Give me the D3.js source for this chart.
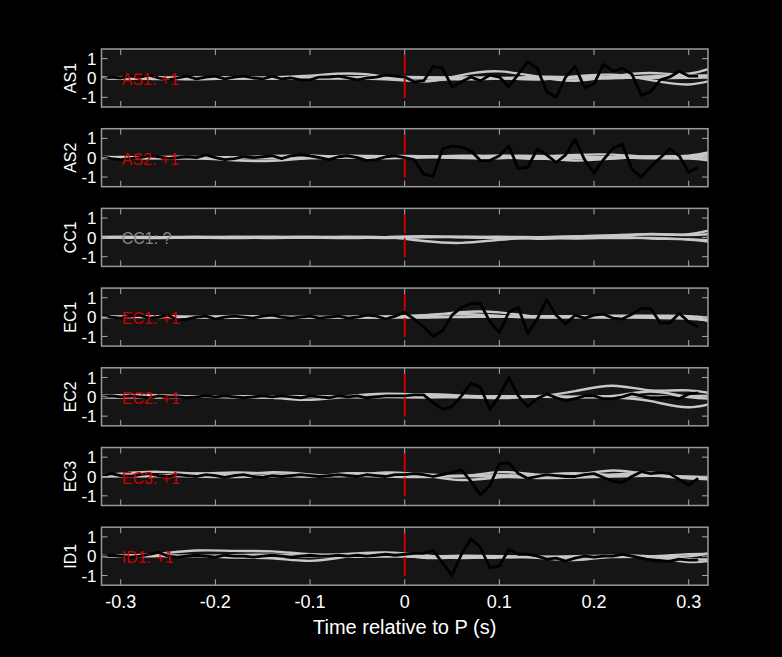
<!DOCTYPE html>
<html><head><meta charset="utf-8">
<script src="https://cdn.jsdelivr.net/npm/d3@7"></script>
<style>body{margin:0;background:#000}svg{display:block}</style>
</head><body>
<svg id="c" width="782" height="657"></svg>
<script>
const stations = ["AS1","AS2","CC1","EC1","EC2","EC3","ID1"];
const labels = ["AS1: +1","AS2: +1","CC1: ?","EC1: +1","EC2: +1","EC3: +1","ID1: +1"];
const labelColors = ["#cc0000","#cc0000","#888888","#cc0000","#cc0000","#cc0000","#cc0000"];
const xTicks = [-0.3,-0.2,-0.1,0,0.1,0.2,0.3];
const yTicks = [1,0,-1];
// black trace: t = -0.33 .. 0.31 step 0.01 (pre 33 values, post 32 values)
const blackPre = {
 AS1:[-0.1,-0.05,0.05,0.0,0.1,0.05,0.15,0.0,-0.1,0.0,0.1,-0.05,0.05,0.1,-0.05,0.05,0.1,0.0,-0.05,0.1,-0.05,0.0,-0.1,-0.1,0.05,0.05,0.1,0.0,-0.1,0.0,0.05,0.15,0.1],
 AS2:[0.2,0.05,-0.05,-0.1,-0.05,0.0,0.1,0.05,-0.05,0.0,0.05,0.0,0.15,0.0,-0.1,-0.05,0.05,0.0,0.05,0.1,-0.05,0.1,0.15,0.1,0.0,-0.1,0.05,0.1,0.0,-0.15,-0.1,0.05,0.1],
 CC1:[],
 EC1:[0.05,0.1,0.0,-0.05,0.05,0.1,-0.05,0.0,0.1,-0.15,-0.1,0.0,0.05,-0.1,0.0,0.05,0.0,-0.05,0.05,0.1,0.0,-0.05,0.0,0.05,-0.05,0.0,0.05,-0.05,0.0,0.1,0.05,-0.1,0.05],
 EC2:[0.05,0.0,0.05,0.0,0.05,0.0,-0.05,0.05,0.0,0.0,-0.05,0.0,0.05,0.0,0.05,0.0,-0.05,0.0,0.05,0.0,0.05,0.0,-0.05,0.05,0.0,-0.05,0.05,0.0,0.05,-0.05,0.0,0.05,0.05],
 EC3:[0.1,0.05,0.15,0.05,0.0,0.1,0.15,0.05,0.0,0.1,0.05,0.0,0.1,0.05,-0.05,0.05,0.1,0.0,-0.05,0.05,0.0,0.05,0.1,0.05,0.0,0.05,0.1,0.05,0.0,0.1,0.05,0.0,0.1],
 ID1:[0.0,0.0,0.05,0.0,-0.05,0.0,0.1,0.2,0.0,-0.05,0.0,0.05,0.0,-0.05,0.05,0.0,0.0,-0.05,0.0,0.05,0.0,-0.05,0.0,0.05,0.0,0.0,0.05,0.0,0.05,0.0,0.05,0.1,0.05]
};
const blackPost = {
 AS1:[0.05,-0.2,-0.15,0.6,0.5,-0.45,-0.2,0.05,-0.15,0.15,0.05,-0.45,0.2,0.85,0.5,-0.7,-1.0,0.05,0.6,-0.5,-0.3,0.7,0.35,0.5,0.2,-0.9,-0.7,-0.1,0.05,0.35,0.1,0.1],
 AS2:[0,-0.1,-0.85,-0.95,0.45,0.6,0.55,0.35,-0.15,-0.15,0.1,0.6,-0.55,-0.5,0.45,0.15,-0.25,0.15,0.95,-0.1,-0.8,-0.1,0.5,0.7,-0.6,-1.0,-0.45,0,0.45,0.1,-0.75,-0.5],
 CC1:[],
 EC1:[0.25,-0.1,-0.5,-1.0,-0.7,0.1,0.5,0.7,0.7,-0.25,-0.8,0.25,0.5,-0.85,-0.1,0.9,0.1,-0.35,0.1,-0.05,0.1,0.15,-0.05,-0.1,0.15,0.45,0.45,-0.3,-0.3,0.2,-0.25,-0.5],
 EC2:[0.05,0.1,0.1,-0.3,-0.65,-0.5,0.05,0.7,0.5,-0.65,0.05,1.0,0.05,-0.5,-0.1,0.15,-0.05,-0.2,-0.1,0.05,0.05,-0.1,-0.1,0,0.15,0.05,-0.05,-0.05,0,-0.1,0.15,0.2],
 EC3:[0.1,0.15,0.1,0,0.1,0.2,0.35,-0.25,-0.95,-0.45,0.65,0.7,0.15,-0.1,0,0.1,0.05,0,0,0.1,0.15,-0.05,-0.25,-0.3,0,0.25,0.15,0.2,0.15,-0.15,-0.45,-0.1],
 ID1:[0.1,0.15,0.15,0.3,-0.35,-1.0,0.1,0.9,0.45,-0.6,-0.5,0.35,0.1,0.1,0,-0.15,-0.1,-0.25,-0.1,0,-0.05,0,0,0.1,0,-0.1,-0.2,-0.25,-0.25,-0.15,-0.2,-0.2]
};
// gray traces: t = -0.34 .. 0.34 step 0.04 (18 points)
const grayTraces = {
 AS1:[[0,0,0.05,0,-0.05,0.05,0.1,0.3,0.1,-0.35,0.2,0.45,0.05,-0.25,0.1,0.35,0.05,0.8],
      [0,0,0,-0.1,0,-0.05,0,-0.05,0,0.05,-0.1,-0.05,0.1,0.05,-0.05,0.1,0.1,0.1],
      [0,0.05,-0.1,0.05,0,0,0.05,0,-0.05,-0.2,0,0.05,-0.15,0.1,0.25,-0.1,-0.5,0.1],
      [0,0,0,0,0.05,0,-0.05,0.05,0.05,0,0.05,0,0,-0.05,0,0.05,0.1,0.15],
      [0,-0.05,0,0.05,0,-0.05,0,0,0.05,0.05,0,-0.05,0,0.05,0.05,0,0,0.05]],
 AS2:[[0.1,0,-0.05,0,-0.15,-0.2,0,0.15,0.05,0.1,0.05,0.15,0,-0.2,-0.05,0.1,0,0.5],
      [0,0,0.05,0.05,0,0.1,0.15,0,-0.05,0.05,0,-0.05,0.05,0.15,0.2,0,0.05,0.3],
      [0,-0.05,0,-0.05,0.05,0,-0.05,0.05,0,0,0.15,0.05,-0.1,0,0.05,-0.05,0,-0.25],
      [0,0,0,0.05,-0.05,0,0.05,0,0.1,0.1,-0.05,0,0.05,0,-0.05,0.05,0.1,0.0],
      [0,0.05,0,0,0.05,-0.05,0,0.05,0.05,0.05,0.05,0.1,0.1,0.05,0,0.05,0.05,-0.1]],
 CC1:[[0,0,0,0,0,0.05,0,0,0.05,-0.2,-0.35,-0.1,0,0.05,0.1,0.2,0.05,0.6],
      [0,0,-0.05,0,0.05,0,0,-0.05,0,0.1,0,-0.05,0.05,-0.1,0,0.25,0.05,0.25],
      [0,0.05,0,0,-0.05,0,0.05,0,-0.05,0,0.05,0,-0.1,0,-0.05,0,-0.1,-0.2],
      [0,0,0,0.05,0,-0.05,0,0.05,0,0.05,0,0.05,0,0.05,0.1,-0.1,-0.05,-0.35]],
 EC1:[[0,0,0.05,0,0.05,-0.05,0.05,0,-0.05,0.05,0.3,0.3,-0.05,0,0.1,0.05,0.1,-0.15],
      [0,0.05,0,-0.05,0.1,0,-0.05,0.05,0,0.1,0.2,0.05,-0.05,0.05,0,-0.05,-0.05,-0.25],
      [0,0,0,0,-0.05,0,0,0,0.05,0,0,0.05,0,0,-0.05,0.05,0.05,-0.4],
      [0,0,0.05,0,0,0.05,0,-0.05,0,-0.05,0.05,0,0.05,0.05,0,0,0,-0.3]],
 EC2:[[0,0.1,0.1,0,-0.05,0,-0.25,0.05,0.2,0.1,0,-0.1,0,0.25,0.75,0.2,0.45,0.0],
      [0,0,-0.05,0,0.05,0,0.05,0,-0.05,0.2,0.05,0,0,0,-0.05,0.45,-0.1,-0.1],
      [0,0,0,0.05,0,-0.05,0,0,0,0.05,-0.05,0,0.05,-0.05,0,-0.15,-0.75,-0.1],
      [0,-0.05,0,0,0,0,0.05,-0.05,0,-0.05,0,0.05,0,0,0.05,0,0.05,0.05]],
 EC3:[[0,0.15,0.3,0.1,0.25,0.15,-0.1,0.25,0.1,0.2,-0.1,0.35,0.05,0,0.45,0.05,-0.1,-0.2],
      [0,0.1,-0.05,0.25,0,0.3,0.1,-0.05,0.3,0.1,-0.3,0,0.05,0.25,0,0.35,-0.2,0.0],
      [0,0,0.05,0,-0.05,0.05,0,0.05,0,-0.05,0.05,0,-0.1,-0.05,0,0.05,0,-0.1],
      [0,0.05,0,0.1,0.05,0,0.05,0,0.1,0.05,0,0.1,0,0,0.05,0.1,-0.05,0.0]],
 ID1:[[0,0,0.1,0.35,0.25,0.3,0.05,0.1,0.25,0.05,-0.15,0,-0.05,-0.3,0.05,0,-0.1,0.35],
      [0,0.05,0,0.05,-0.1,-0.05,-0.35,0,0.3,-0.2,0,-0.05,0,-0.1,0,0.1,-0.45,-0.1],
      [0,0,0,0,0.05,0.1,0,-0.05,0,-0.05,0.05,0,-0.05,0,0.05,-0.05,0.15,0.1],
      [0,0,0.05,0,0,-0.05,0,0.05,0.05,0,-0.05,-0.1,0,-0.1,-0.05,0,-0.2,-0.15]]
};

const svg = d3.select("#c");
const left = 101.5, right = 708, top0 = 49, ph = 58, step = 79.7;
const x = d3.scaleLinear().domain([-0.3203, 0.3204]).range([left, right]);
const font = "Liberation Sans, Arial, sans-serif";

svg.append("defs").append("clipPath").attr("id","clip")
  .append("rect").attr("x",left).attr("y",0).attr("width",right-left).attr("height",ph);

stations.forEach((s, i) => {
  const top = top0 + i*step;
  const g = svg.append("g").attr("transform", `translate(0,${top})`);
  const y = d3.scaleLinear().domain([-1.5,1.5]).range([ph,0]);
  g.append("rect").attr("x",left).attr("y",0).attr("width",right-left).attr("height",ph).attr("fill","#151515");
  const pg = g.append("g").attr("clip-path","url(#clip)");
  const gl = d3.line().x(d=>x(d[0])).y(d=>y(d[1])).curve(d3.curveBasis);
  grayTraces[s].forEach(tr => {
    const pts = tr.map((v,k)=>[-0.34+0.04*k, v]);
    pg.append("path").attr("d",gl(pts)).attr("fill","none").attr("stroke","#c8c8c8").attr("stroke-width",2.4);
  });
  pg.append("line").attr("x1",x(0)).attr("x2",x(0)).attr("y1",y(1.2)).attr("y2",y(-1.2))
    .attr("stroke","#cc0000").attr("stroke-width",2).attr("stroke-dasharray","19,5");
  const bv = blackPre[s].concat(blackPost[s]);
  if (bv.length) {
    const pts = bv.map((v,k)=>[-0.33+0.01*k, v]);
    const bl = d3.line().x(d=>x(d[0])).y(d=>y(d[1]));
    pg.append("path").attr("d",bl(pts)).attr("fill","none").attr("stroke","#000").attr("stroke-width",2.8).attr("stroke-linejoin","round");
  }
  pg.append("text").attr("x",x(-0.3)+1).attr("y",y(0)+7).attr("text-anchor","start")
    .attr("fill",labelColors[i]).attr("font-family",font).attr("font-size",16).text(labels[i]);
  xTicks.forEach(t => {
    g.append("line").attr("x1",x(t)).attr("x2",x(t)).attr("y1",0).attr("y2",6).attr("stroke","#aaa");
    g.append("line").attr("x1",x(t)).attr("x2",x(t)).attr("y1",ph).attr("y2",ph-6).attr("stroke","#aaa");
  });
  yTicks.forEach(t => {
    g.append("line").attr("x1",left).attr("x2",left+6).attr("y1",y(t)).attr("y2",y(t)).attr("stroke","#aaa");
    g.append("line").attr("x1",right).attr("x2",right-6).attr("y1",y(t)).attr("y2",y(t)).attr("stroke","#aaa");
    g.append("text").attr("x",left-5).attr("y",y(t)).attr("dy","0.36em").attr("text-anchor","end")
      .attr("fill","#fff").attr("font-family",font).attr("font-size",17).text(t);
  });
  g.append("rect").attr("x",left).attr("y",0).attr("width",right-left).attr("height",ph)
    .attr("fill","none").attr("stroke","#999").attr("stroke-width",1.5);
  g.append("text").attr("transform",`translate(76,${ph/2}) rotate(-90)`).attr("text-anchor","middle")
    .attr("fill","#fff").attr("font-family",font).attr("font-size",16).text(s);
});

const bottom = top0 + 6*step + ph;
xTicks.forEach(t => {
  svg.append("text").attr("x",x(t)).attr("y",bottom+23).attr("text-anchor","middle")
    .attr("fill","#fff").attr("font-family",font).attr("font-size",18).text(t);
});
svg.append("text").attr("x",x(0)).attr("y",bottom+49).attr("text-anchor","middle")
  .attr("fill","#fff").attr("font-family",font).attr("font-size",20).text("Time relative to P (s)");
</script>
</body></html>
